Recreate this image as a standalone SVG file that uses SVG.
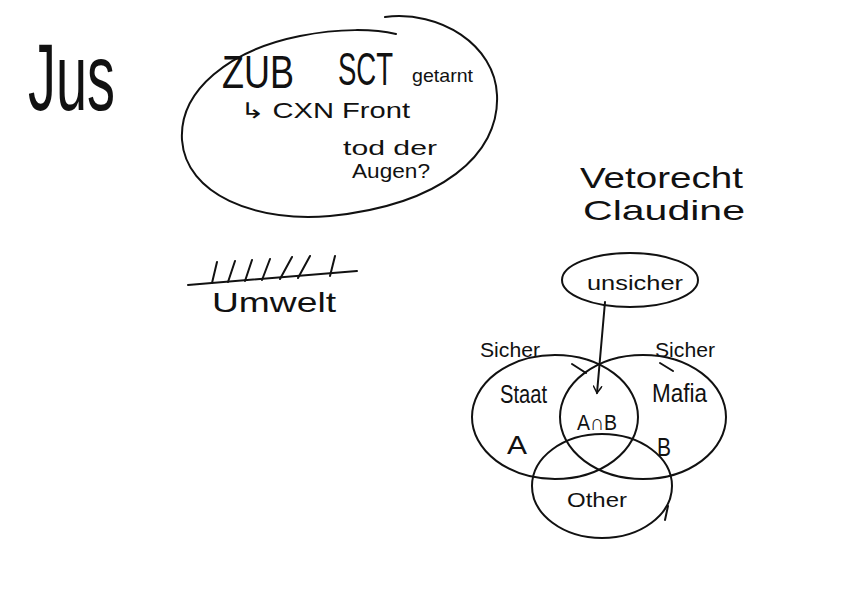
<svg xmlns="http://www.w3.org/2000/svg" width="842" height="595" viewBox="0 0 842 595">
<defs>
<style>
.s{fill:none;stroke:#111;stroke-width:2;stroke-linecap:round;stroke-linejoin:round}
.t{font-family:"Liberation Sans","DejaVu Sans",sans-serif;fill:#111}
</style>
<marker id="ah" viewBox="0 0 12 12" refX="10" refY="6" markerWidth="10" markerHeight="10" orient="auto" markerUnits="userSpaceOnUse">
<path d="M2,1 L10,6 L2,11" fill="none" stroke="#111" stroke-width="1.8" stroke-linecap="round"/>
</marker>
</defs>
<rect width="842" height="595" fill="#fff"/>

<g id="jus">
<text class="t" x="28" y="110" font-size="95" textLength="87" lengthAdjust="spacingAndGlyphs">Jus</text>
</g>

<g id="zub-note">
<path class="s" d="M385,17 C440,10 495,45 497,95 C500,155 440,205 330,216 C255,222 186,195 182,140 C179,90 230,50 300,36 C340,28 375,29 396,34"/>
<text class="t" x="222" y="88" font-size="46" textLength="72" lengthAdjust="spacingAndGlyphs">ZUB</text>
<text class="t" transform="translate(338,85) scale(0.81,1.35)" x="0" y="0" font-size="34">SCT</text>
<text class="t" x="412" y="82" font-size="19" textLength="61" lengthAdjust="spacingAndGlyphs">getarnt</text>
<text class="t" x="240" y="118" font-size="22" textLength="170" lengthAdjust="spacingAndGlyphs">↳ CXN Front</text>
<text class="t" x="343" y="155" font-size="20" textLength="94" lengthAdjust="spacingAndGlyphs">tod der</text>
<text class="t" x="352" y="178" font-size="21" textLength="78" lengthAdjust="spacingAndGlyphs">Augen?</text>
</g>

<g id="vetorecht">
<text class="t" x="580" y="188" font-size="29" textLength="163" lengthAdjust="spacingAndGlyphs">Vetorecht</text>
<text class="t" x="583" y="220" font-size="28" textLength="162" lengthAdjust="spacingAndGlyphs">Claudine</text>
</g>

<g id="umwelt">
<path class="s" d="M188,285 L357,271"/>
<path class="s" d="M212,283 L217,262 M228,282 L235,261 M245,281 L252,260 M262,280 L270,259 M280,279 L292,257 M298,278 L310,256 M330,276 L335,256"/>
<text class="t" x="212" y="312" font-size="28" textLength="124" lengthAdjust="spacingAndGlyphs">Umwelt</text>
</g>

<g id="unsicher">
<ellipse class="s" cx="630" cy="280" rx="68" ry="27"/>
<text class="t" x="587" y="290" font-size="20" textLength="96" lengthAdjust="spacingAndGlyphs">unsicher</text>
</g>

<g id="staat">
<ellipse class="s" cx="555" cy="417" rx="83" ry="62"/>
<text class="t" x="480" y="357" font-size="20" textLength="60" lengthAdjust="spacingAndGlyphs">Sicher</text>
<path class="s" d="M572,364 L586,373"/>
<text class="t" x="500" y="403" font-size="26" textLength="47" lengthAdjust="spacingAndGlyphs">Staat</text>
<text class="t" x="507" y="454" font-size="26" textLength="20" lengthAdjust="spacingAndGlyphs">A</text>
</g>

<g id="mafia">
<ellipse class="s" cx="643" cy="417" rx="83" ry="62"/>
<text class="t" x="655" y="357" font-size="20" textLength="60" lengthAdjust="spacingAndGlyphs">Sicher</text>
<path class="s" d="M660,363 L673,371"/>
<text class="t" x="652" y="402" font-size="26" textLength="55" lengthAdjust="spacingAndGlyphs">Mafia</text>
<text class="t" x="657" y="456" font-size="26" textLength="14" lengthAdjust="spacingAndGlyphs">B</text>
</g>

<g id="intersection">
<text class="t" x="577" y="430" font-size="22" textLength="40" lengthAdjust="spacingAndGlyphs">A∩B</text>
</g>

<g id="other">
<ellipse class="s" cx="602" cy="486" rx="70" ry="52"/>
<path class="s" d="M668,506 L665,520"/>
<text class="t" x="567" y="507" font-size="20" textLength="60" lengthAdjust="spacingAndGlyphs">Other</text>
</g>

<g id="connectors">
<path class="s" d="M605,302 L597,393" marker-end="url(#ah)"/>
</g>
</svg>
